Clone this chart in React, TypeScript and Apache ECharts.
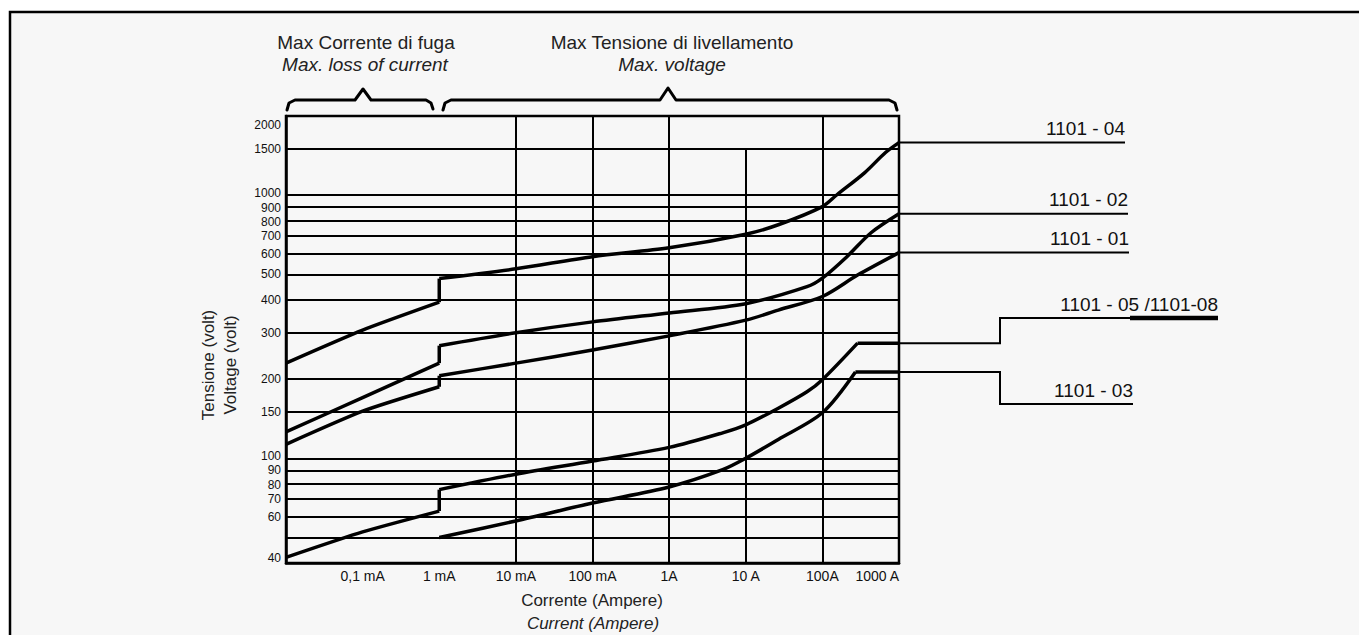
import React, { useEffect, useRef } from "react";
import * as echarts from "echarts";

// ---- axis ranges (log scales) ----
const X_MIN = 1e-5;
const X_MAX = 1e3;
const Y_MIN = 40;
const Y_MAX = 2000;

// ---- tick labels ----
const xTickLabels: Record<string, string> = {
  "-4": "0,1 mA",
  "-3": "1 mA",
  "-2": "10 mA",
  "-1": "100 mA",
  "0": "1A",
  "1": "10 A",
  "2": "100A",
  "3": "1000 A",
};
const xFullGridLines = [1e-4, 1e-3, 1e-2, 1e-1, 1, 100];
const xShortGridLine = 10; // drawn from 40 V up to 1500 V only
const xShortGridTop = 1500;
const yGridValues = [50, 60, 70, 80, 90, 100, 150, 200, 300, 400, 500, 600, 700, 800, 900, 1000, 1500];
const yTickLabels = [40, 60, 70, 80, 90, 100, 150, 200, 300, 400, 500, 600, 700, 800, 900, 1000, 1500, 2000];

// ---- curves: [current (A), voltage (V)] ----
const c04Left = [[1e-5, 230], [1e-4, 307], [1e-3, 392]];
const c04Right = [[1e-3, 482], [1e-2, 525], [0.1, 584], [1, 631], [10, 711], [26.6, 772], [100, 905], [155, 1004], [358, 1219], [667, 1453], [1000, 1585]];
const c02Left = [[1e-5, 126], [1e-4, 170], [1e-3, 230]];
const c02Right = [[1e-3, 268], [1e-2, 300], [0.1, 330], [1, 357], [10, 387], [63, 449], [100, 484], [209, 584], [432, 720], [1000, 850]];
const c01Left = [[1e-5, 113], [1e-4, 151], [1e-3, 187]];
const c01Right = [[1e-3, 206], [1e-2, 230], [0.1, 258], [1, 292], [10, 335], [26.6, 366], [100, 412], [288, 497], [1000, 605]];
const c05Left = [[1e-5, 42], [1e-4, 52.5], [1e-3, 63]];
const c05Right = [[1e-3, 76], [1e-2, 87], [0.1, 97.6], [1, 110], [5, 125], [10, 134], [26.6, 155], [63, 179], [100, 199], [288, 274]];
const c05Plateau = [[288, 274], [1000, 274]];
const c03Right = [[1e-3, 50], [1e-2, 57.8], [0.1, 67.6], [1, 77.8], [5, 90.5], [10, 100], [26.6, 118], [100, 149], [270, 213]];
const c03Plateau = [[270, 213], [1000, 213]];

const curveNames = ["1101 - 04", "1101 - 02", "1101 - 01", "1101 - 05 /1101-08", "1101 - 03"];
const curveLefts: (number[][] | null)[] = [c04Left, c02Left, c01Left, c05Left, null];
const curveRights = [c04Right, c02Right, c01Right, c05Right, c03Right];
const curvePlateaus: (number[][] | null)[] = [null, null, null, c05Plateau, c03Plateau];

const FONT = "Liberation Sans, Arial, sans-serif";
const INK = "#111";

// small vertical nudges (px) for crowded y labels
const yLabelNudge: Record<string, number> = { "1000": -2, "900": 1, "800": 1, "100": -2, "80": 1, "2000": 9, "40": -5 };

// leader layout (pixels): [labelRightX, stepX, stepY, thickFrom]
const leaderLayout: (number | null)[][] = [
  [1125, null, null, null],
  [1128, null, null, null],
  [1129, null, null, null],
  [1218, 1000, 318, 1130],
  [1133, 1000, 404, null],
];

function buildSeries() {
  const lineStyle = { color: "#000", width: 3.5, join: "round" };
  const series: any[] = [];
  curveRights.forEach((right, i) => {
    const left = curveLefts[i];
    if (left) {
      series.push({
        type: "line", name: curveNames[i] + " L", data: left, symbol: "none",
        smooth: 0.2, lineStyle, silent: true,
      });
      series.push({
        type: "line", name: curveNames[i] + " J", data: [left[left.length - 1], right[0]], symbol: "none",
        lineStyle, silent: true,
      });
    }
    series.push({
      type: "line", name: curveNames[i], data: right, symbol: "none",
      smooth: 0.3, lineStyle, silent: true,
    });
    const plateau = curvePlateaus[i];
    if (plateau) {
      series.push({
        type: "line", name: curveNames[i] + " P", data: plateau, symbol: "none",
        lineStyle, silent: true,
      });
    }
  });

  const gridLine = { color: "#000", width: 2, type: "solid" };
  const markData: any[] = [];
  xFullGridLines.forEach((v) => markData.push({ xAxis: v, label: { show: false } }));
  markData.push([
    { coord: [xShortGridLine, Y_MIN], label: { show: false } },
    { coord: [xShortGridLine, xShortGridTop] },
  ]);
  const labelFor = (v: number) => {
    const key = String(v);
    const hasLabel = yTickLabels.indexOf(v) >= 0;
    return {
      yAxis: v, name: hasLabel ? key : "",
      label: { show: hasLabel, offset: [0, yLabelNudge[key] || 0] },
    };
  };
  yGridValues.forEach((v) => markData.push(labelFor(v)));
  markData.push(labelFor(Y_MAX));
  markData.push(labelFor(Y_MIN));

  series.push({
    type: "line", name: "grid", data: [], symbol: "none", silent: true,
    markLine: {
      silent: true, symbol: ["none", "none"], animation: false,
      lineStyle: gridLine,
      label: { show: true, position: "start", formatter: "{b}", color: INK, fontSize: 12, fontFamily: FONT, distance: 5 },
      data: markData,
    },
  });
  return series;
}

function textEl(text: string, x: number, y: number, size: number, opts: any = {}) {
  return {
    type: "text", x, y, silent: true, rotation: opts.rotation || 0,
    style: {
      text, fill: opts.fill || "#222", fontSize: size, fontFamily: FONT,
      fontStyle: opts.italic ? "italic" : "normal",
      align: opts.align || "center", verticalAlign: "middle",
    },
  };
}

function staticGraphics() {
  const brace = (pts: number[][]) => ({
    type: "polyline", silent: true,
    shape: { points: pts },
    style: { stroke: "#000", lineWidth: 3, fill: null, lineJoin: "round", lineCap: "round" },
  });
  return [
    {
      type: "rect", z: -100, silent: true,
      shape: { x: 10, y: 12, width: 1400, height: 700 },
      style: { fill: "#f7f7f7", stroke: "#000", lineWidth: 2.5 },
    },
    textEl("Max Corrente di fuga", 366, 42, 19),
    textEl("Max. loss of current", 365, 64, 19, { italic: true }),
    textEl("Max Tensione di livellamento", 672, 42, 19),
    textEl("Max. voltage", 672, 64, 19, { italic: true }),
    brace([[287, 110], [289, 103], [295, 100], [355, 100], [363, 89], [371, 100], [426, 100], [431, 103], [433, 109]]),
    brace([[443, 110], [445, 103], [451, 100], [660, 100], [668, 88], [676, 100], [889, 100], [895, 103], [897, 110]]),
    textEl("Tensione (volt)", 208, 365, 17, { rotation: Math.PI / 2 }),
    textEl("Voltage (volt)", 230, 365, 17, { rotation: Math.PI / 2 }),
    textEl("Corrente (Ampere)", 592, 600, 17),
    textEl("Current (Ampere)", 593, 623, 17, { italic: true }),
  ];
}

function leaderGraphics(ends: number[][]) {
  const els: any[] = [];
  ends.forEach((p, i) => {
    const [rightX, stepX, stepY, thickFrom] = leaderLayout[i];
    const pts: number[][] = [[p[0], p[1]]];
    let lineY = p[1];
    if (stepX != null && stepY != null) {
      pts.push([stepX, p[1]]);
      pts.push([stepX, stepY]);
      lineY = stepY;
    }
    pts.push([rightX as number, lineY]);
    els.push({
      type: "polyline", silent: true, shape: { points: pts },
      style: { stroke: "#000", lineWidth: 2, fill: null },
    });
    if (thickFrom != null) {
      els.push({
        type: "line", silent: true,
        shape: { x1: thickFrom, y1: lineY, x2: rightX as number, y2: lineY },
        style: { stroke: "#000", lineWidth: 4.5 },
      });
    }
    els.push(textEl(curveNames[i], rightX as number, lineY - 14, 19, { align: "right", fill: INK }));
  });
  return els;
}

export default function App() {
  const ref = useRef<HTMLDivElement>(null);
  useEffect(() => {
    document.body.style.margin = "0";
    const chart = echarts.init(ref.current!, null, { renderer: "svg" });
    chart.setOption({
      animation: false,
      backgroundColor: "#ffffff",
      grid: {
        left: 286, top: 116, width: 613, height: 447,
        show: true, borderColor: "#000", borderWidth: 2.5, backgroundColor: "transparent",
        containLabel: false,
      },
      xAxis: {
        type: "log", logBase: 10, min: X_MIN, max: X_MAX, splitNumber: 8,
        axisLine: { show: true, lineStyle: { color: "#000", width: 2.5 } },
        axisTick: { show: false },
        splitLine: { show: false },
        axisLabel: {
          show: true, interval: 0, margin: 6, color: INK, fontSize: 14, fontFamily: FONT,
          alignMaxLabel: "right",
          formatter: (v: number) => xTickLabels[String(Math.round(Math.log10(v)))] ?? "",
        },
      },
      yAxis: {
        type: "log", logBase: 10, min: Y_MIN, max: Y_MAX,
        axisLine: { show: true, lineStyle: { color: "#000", width: 2.5 } },
        axisTick: { show: false },
        splitLine: { show: false },
        axisLabel: { show: false },
      },
      series: buildSeries(),
    });
    const ends = curveRights.map((r, i) => {
      const src = curvePlateaus[i] || r;
      return chart.convertToPixel({ gridIndex: 0 }, src[src.length - 1]) as number[];
    });
    chart.setOption({ graphic: [...staticGraphics(), ...leaderGraphics(ends)] });
    return () => chart.dispose();
  }, []);
  return <div ref={ref} style={{ position: "absolute", left: 0, top: 0, width: 1359, height: 635 }} />;
}
